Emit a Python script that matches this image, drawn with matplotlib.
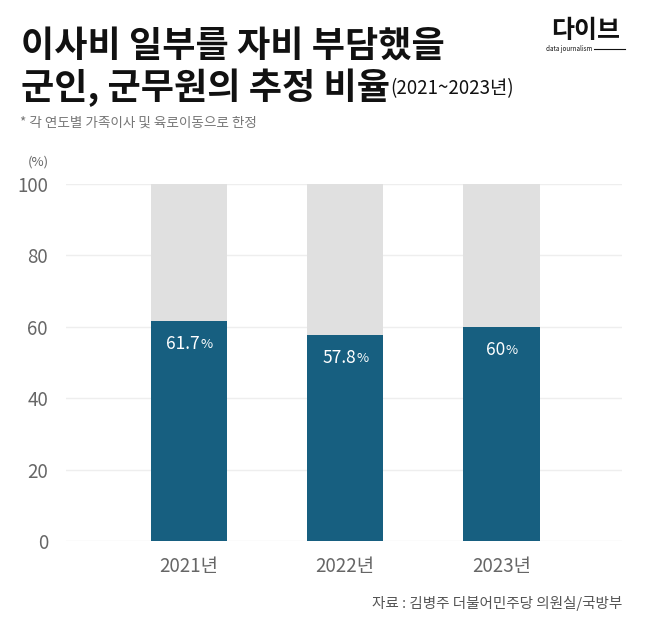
import matplotlib.pyplot as plt

plt.rcParams['font.family'] = ['Noto Sans CJK KR', 'DejaVu Sans']

years = ["2021년", "2022년", "2023년"]
share = [61.7, 57.8, 60.0]
share_labels = ["61.7", "57.8", "60"]
total = [100, 100, 100]
y_ticks = [0, 20, 40, 60, 80, 100]

BLUE = "#175f80"
GREY_BAR = "#e0e0e0"
TEXT_GREY = "#666666"

fig = plt.figure(figsize=(6.47, 6.28), dpi=100)
ax = fig.add_axes([0.102, 0.1385, 0.859, 0.5685])

ind = range(len(years))
ax.bar(ind, total, width=0.49, color=GREY_BAR, zorder=2)
ax.bar(ind, share, width=0.49, color=BLUE, zorder=3)

for i, (v, lab) in enumerate(zip(share, share_labels)):
    t = ax.annotate(lab, xy=(i, v), xytext=(-4, -10), textcoords="offset points",
                    ha="center", va="top", color="white", fontsize=12.5, zorder=4)
    ax.annotate("%", xy=(1, 0.1), xycoords=t, ha="left", va="bottom",
                color="white", fontsize=9.5, zorder=4)

ax.set_xlim(-0.786, 2.77)
ax.set_ylim(0, 100)
ax.set_yticks(y_ticks)
ax.set_xticks(list(ind))
ax.set_xticklabels(years)
ax.grid(axis="y", color="#eeeeee", linewidth=1, zorder=0)
ax.tick_params(axis="both", length=0, labelsize=13.5, labelcolor=TEXT_GREY)
ax.tick_params(axis="y", pad=13)
ax.tick_params(axis="x", pad=11)
for s in ax.spines.values():
    s.set_visible(False)

# titles
fig.text(0.033, 0.909, "이사비 일부를 자비 부담했을", fontsize=26, fontweight="bold",
         color="#111111", va="baseline")
line2 = fig.text(0.033, 0.842, "군인, 군무원의 추정 비율", fontsize=26, fontweight="bold",
                 color="#111111", va="baseline")
plt.annotate("(2021~2023년)", xy=(1, 0.2), xycoords=line2, ha="left", va="bottom",
             fontsize=13.5, color="#111111")
fig.text(0.031, 0.798, "* 각 연도별 가족이사 및 육로이동으로 한정", fontsize=9.8,
         color="#777777", va="baseline")
fig.text(0.059, 0.742, "(%)", fontsize=9.5, color=TEXT_GREY, ha="center", va="center")

# logo
fig.text(0.905, 0.95, "다이브", fontsize=18, fontweight="bold", color="#111111",
         ha="center", va="center")
fig.text(0.88, 0.922, "data journalism", fontsize=4.5, color="#111111",
         ha="center", va="center")
fig.add_artist(plt.Line2D([0.918, 0.966], [0.922, 0.922], color="#111111", linewidth=0.8))

fig.text(0.961, 0.032, "자료 : 김병주 더불어민주당 의원실/국방부", fontsize=10.5,
         color="#555555", ha="right", va="baseline")

fig.savefig("out.png", dpi=100)
